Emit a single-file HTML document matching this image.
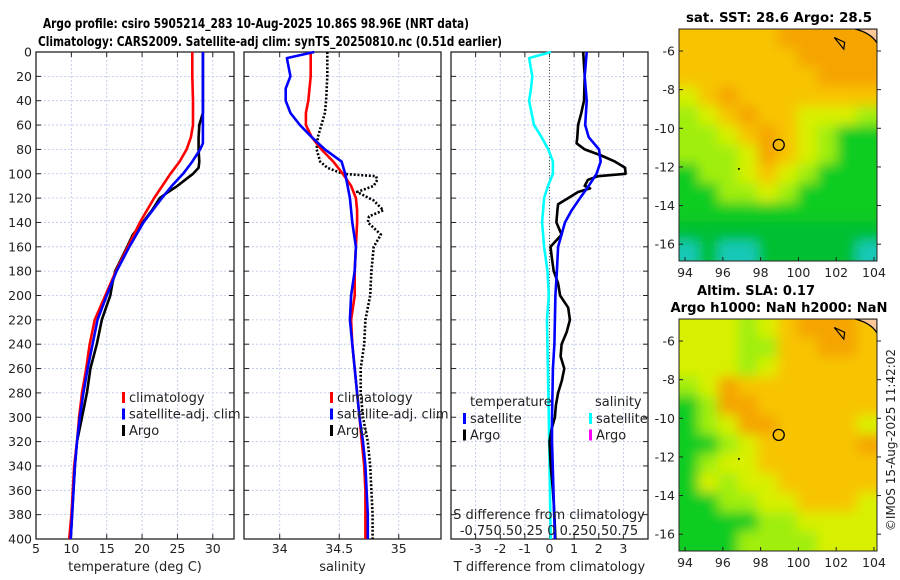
<!DOCTYPE html>
<html><head><meta charset="utf-8"><style>
body{margin:0;background:#fff;}
svg{display:block;font-family:"DejaVu Sans","Liberation Sans",sans-serif;}
</style></head><body>
<svg id="fig" width="900" height="580" viewBox="0 0 900 580" xmlns="http://www.w3.org/2000/svg">
<text x="256" y="28" font-size="13" font-weight="bold" text-anchor="middle" textLength="426" lengthAdjust="spacingAndGlyphs">Argo profile: csiro 5905214_283 10-Aug-2025 10.86S 98.96E (NRT data)</text>
<text x="270" y="46" font-size="13" font-weight="bold" text-anchor="middle" textLength="464" lengthAdjust="spacingAndGlyphs">Climatology: CARS2009. Satellite-adj clim: synTS_20250810.nc (0.51d earlier)</text>
<text x="779" y="22" font-size="13" font-weight="bold" text-anchor="middle" textLength="186" lengthAdjust="spacingAndGlyphs">sat. SST: 28.6 Argo: 28.5</text>
<text x="756" y="295" font-size="13" font-weight="bold" text-anchor="middle" textLength="118" lengthAdjust="spacingAndGlyphs">Altim. SLA: 0.17</text>
<text x="779" y="312" font-size="13" font-weight="bold" text-anchor="middle" textLength="217" lengthAdjust="spacingAndGlyphs">Argo h1000: NaN h2000: NaN</text>
<text transform="translate(895,440) rotate(-90)" font-size="12" fill="#222" text-anchor="middle">©IMOS 15-Aug-2025 11:42:02</text>
<g id="layer"></g>
</svg>
<script>
// ---------- data ----------
const depthTicks = [0,20,40,60,80,100,120,140,160,180,200,220,240,260,280,300,320,340,360,380,400];
const tempTicks = [5,10,15,20,25,30];
const salTicks = [34,34.5,35];
const salTickLabels = ["34","34.5","35"];
const diffTicks = [-3,-2,-1,0,1,2,3];

const climTDepth = [0,20,40,60,70,80,90,100,120,140,160,180,200,220,240,260,280,300,320,340,360,380,400];
const climT      = [27.1,27.1,27.2,27.2,26.9,26.3,25.3,24.0,21.7,19.7,18.0,16.3,14.8,13.3,12.6,12.1,11.5,11.1,10.8,10.4,10.2,10.0,9.7];
const satTDepth  = [0,20,40,60,75,80,90,100,110,120,140,160,180,200,220,240,260,280,300,320,340,360,380,400];
const satT       = [28.6,28.6,28.6,28.6,28.6,28.2,27.1,25.8,24.2,22.8,20.2,18.2,16.4,15.0,13.7,13.0,12.3,11.7,11.2,10.8,10.5,10.3,10.1,9.9];
const argoTDepth = [0,20,40,50,60,70,80,90,95,100,105,110,115,120,130,140,150,160,180,190,200,210,220,240,260,280,300,320,340,360,380,400];
const argoT      = [28.6,28.6,28.6,28.6,28.1,28.0,28.0,28.1,28.0,27.2,26.1,25.0,23.7,22.5,21.4,20.1,18.7,17.9,16.2,15.8,15.5,14.9,14.3,13.6,12.7,12.2,11.5,10.8,10.5,10.3,10.1,9.9];

const climSDepth = [0,20,40,50,60,70,80,90,100,110,120,130,140,160,180,200,220,240,260,280,300,320,340,360,380,400];
const climS      = [34.26,34.26,34.24,34.22,34.22,34.27,34.35,34.45,34.53,34.60,34.64,34.65,34.65,34.64,34.63,34.63,34.60,34.61,34.63,34.65,34.67,34.69,34.71,34.72,34.72,34.72];
const satSDepth  = [0,5,20,30,40,50,60,70,80,90,100,110,120,140,160,180,200,220,240,260,280,300,320,340,360,380,400];
const satS       = [34.29,34.06,34.09,34.05,34.05,34.09,34.17,34.27,34.38,34.52,34.55,34.57,34.59,34.61,34.64,34.63,34.60,34.59,34.61,34.63,34.65,34.67,34.70,34.72,34.73,34.74,34.74];
const argoSDepth = [0,20,40,50,60,70,80,90,95,100,102,105,110,115,122,130,135,140,150,160,180,200,220,240,260,280,300,320,340,360,380,400];
const argoS      = [34.40,34.40,34.39,34.38,34.35,34.32,34.31,34.34,34.40,34.53,34.81,34.82,34.79,34.65,34.79,34.87,34.75,34.74,34.85,34.79,34.77,34.76,34.72,34.71,34.68,34.68,34.70,34.74,34.76,34.77,34.78,34.78];

const dSatSDepth = [0,5,20,30,40,60,70,80,90,100,110,120,140,160,180,200,220,300,400];
const dSatS      = [0.06,-0.83,-0.7,-0.75,-0.83,-0.63,-0.32,-0.05,0.14,0.14,-0.06,-0.22,-0.3,-0.22,-0.08,-0.03,-0.1,-0.03,0.05];
const dSatTDepth = [0,20,40,60,70,80,90,100,110,120,130,140,160,180,200,220,240,260,280,300,320,400];
const dSatT      = [1.51,1.43,1.51,1.45,1.59,2.01,2.08,1.91,1.59,1.24,0.9,0.63,0.35,0.3,0.24,0.22,0.2,0.14,0.12,0.1,0.1,0.22];
const dArgoTDepth = [0,20,40,50,60,70,75,80,85,90,95,100,102,105,110,112,115,120,125,130,140,150,160,170,180,190,200,210,220,230,240,250,260,270,280,290,300,310,320,340,360,380,400];
const dArgoT      = [1.37,1.43,1.40,1.29,1.16,1.13,1.10,1.43,2.1,2.66,3.07,3.09,1.97,1.56,1.43,1.65,1.16,0.76,0.35,0.32,0.28,0.49,0.04,0.1,0.17,0.35,0.43,0.76,0.83,0.7,0.49,0.45,0.6,0.5,0.35,0.26,0.22,0.08,0.0,0.05,0.14,0.2,0.24];

const mapLonTicks = [94,96,98,100,102,104];
const mapLatTicks = [-6,-8,-10,-12,-14,-16];
const sstGrid = ["YYYYYOOOOO","YYYYYYOOOO","YYYYYYYOOO","LYOYYYYYYY","GLYOYYLLLG","GGLYOYLGgg","GGGLOYLGgg","gGGLYLGggg","ggGGLGgggg","gggggggggg","DDDDDDDDDD","CDCCDDDDDC"];
const slaGrid = ["LLLGLYOOOY","LLLGGYYOOY","LLLGLYYYYY","GLOYYYYYYY","gGOOYYYYYY","gGLOOYYYYL","ggGLYYYYYO","gGLLYYYYYY","gLGLLYYYYY","ggGGLLYYYL","ggggGGLLLL","gggGGGGLLL"];
const argoLon = 98.96, argoLat = -10.86;

// ---------- helpers ----------
const NS = "http://www.w3.org/2000/svg";
const layer = document.getElementById('layer');
function mk(tag, attrs, parent){const e=document.createElementNS(NS,tag);for(const k in attrs)e.setAttribute(k,attrs[k]);(parent||layer).appendChild(e);return e;}
function lin(d0,d1,r0,r1){return v=>r0+(v-d0)*(r1-r0)/(d1-d0);}
const yD = lin(0,400,52,539);

function panel(name,x0,x1,xs,xTicks,xLabels,xTitle,showY){
  const g=mk('g',{});
  
  
  xTicks.forEach(t=>{const x=xs(t);mk('line',{x1:x,x2:x,y1:52,y2:539,stroke:'#b8c4e8','stroke-width':0.8,'stroke-dasharray':'2,2'},g);});
  depthTicks.forEach(d=>{const y=yD(d);mk('line',{x1:x0,x2:x1,y1:y,y2:y,stroke:'#b8c4e8','stroke-width':0.8,'stroke-dasharray':'2,2'},g);
    mk('line',{x1:x0,x2:x0+5,y1:y,y2:y,stroke:'#222'},g);mk('line',{x1:x1-5,x2:x1,y1:y,y2:y,stroke:'#222'},g);
    if(showY){const t=mk('text',{x:x0-4,y:y+4.5,'font-size':12.5,'text-anchor':'end',fill:'#222'},g);t.textContent=d;
      
      }
  });
  xTicks.forEach((t,i)=>{const x=xs(t);mk('line',{x1:x,x2:x,y1:52,y2:57,stroke:'#222'},g);mk('line',{x1:x,x2:x,y1:534,y2:539,stroke:'#222'},g);
    const tx=mk('text',{x:x,y:553,'font-size':12.5,'text-anchor':'middle',fill:'#222'},g);tx.textContent=xLabels[i];
    
    });
  const tt=mk('text',{x:(x0+x1)/2,y:571,'font-size':13,'text-anchor':'middle',fill:'#222'},g);tt.textContent=xTitle;
  
  
  mk('rect',{x:x0,y:52,width:x1-x0,height:487,fill:'none',stroke:'#222','stroke-width':1.3},g);
  return g;
}
function line(g,xs,vals,depths,color,w,dash,name){
  const pts=vals.map((v,i)=>xs(v).toFixed(1)+','+yD(depths[i]).toFixed(1)).join(' ');
  const p=mk('polyline',{points:pts,fill:'none',stroke:color,'stroke-width':w,'stroke-linejoin':'round'},g);
  if(dash)p.setAttribute('stroke-dasharray',dash);
  
  
}
function legend(g,x,y,items){
  items.forEach((it,i)=>{mk('rect',{x:x,y:y+i*16.5-9,width:3,height:11,fill:it[1]},g);
    const t=mk('text',{x:x+7,y:y+i*16.5+1,'font-size':13,fill:'#222'},g);t.textContent=it[0];
    
    });
}

// ---------- panel 1: temperature ----------
const xT = lin(5,33,36,234);
const g1 = panel('temperature-panel',36,234,xT,tempTicks,tempTicks.map(String),'temperature (deg C)',true);
line(g1,xT,argoT,argoTDepth,'#000',2.6,null,'argo-temperature-line');
line(g1,xT,climT,climTDepth,'#f00',2.6,null,'climatology-temperature-line');
line(g1,xT,satT,satTDepth,'#00f',2.6,null,'satellite-temperature-line');
legend(g1,122,401,[['climatology','#f00'],['satellite-adj. clim','#00f'],['Argo','#000']]);

// ---------- panel 2: salinity ----------
const xS = lin(33.7,35.355,244,441);
const g2 = panel('salinity-panel',244,441,xS,salTicks,salTickLabels,'salinity',false);
line(g2,xS,argoS,argoSDepth,'#000',2.6,'2,1.8','argo-salinity-line');
line(g2,xS,climS,climSDepth,'#f00',2.6,null,'climatology-salinity-line');
line(g2,xS,satS,satSDepth,'#00f',2.6,null,'satellite-salinity-line');
legend(g2,330,401,[['climatology','#f00'],['satellite-adj. clim','#00f'],['Argo','#000']]);

// ---------- panel 3: differences ----------
const xDf = lin(-4,4,451,648);
const g3 = panel('difference-panel',451,648,xDf,diffTicks,diffTicks.map(String),'T difference from climatology',false);
mk('line',{x1:xDf(0),x2:xDf(0),y1:52,y2:539,stroke:'#554',"stroke-dasharray":'1,2'},g3);
line(g3,xDf,dSatS,dSatSDepth,'#0ff',2.6,null,'salinity-satellite-diff-line');
line(g3,xDf,dArgoT,dArgoTDepth,'#000',2.6,null,'argo-temperature-diff-line');
line(g3,xDf,dSatT,dSatTDepth,'#00f',2.6,null,'satellite-temperature-diff-line');
const lt=mk('text',{x:470,y:406,'font-size':13,fill:'#222'},g3);lt.textContent='temperature';


const ls=mk('text',{x:595,y:406,'font-size':13,fill:'#222'},g3);ls.textContent='salinity';


legend(g3,463,422,[['satellite','#00f'],['Argo','#000']]);
legend(g3,589,422,[['satellite','#0ff'],['Argo','#f0f']]);
const sd=mk('text',{x:549,y:519,'font-size':13,'text-anchor':'middle',fill:'#222'},g3);sd.textContent='S difference from climatology';


const sl=mk('text',{x:549,y:535,'font-size':13,'text-anchor':'middle',fill:'#222'},g3);sl.textContent='-0.750.50.25 0 0.250.50.75';



// ---------- maps ----------
const COL={O:'#f5a400',Y:'#f8c400',L:'#d8f000',G:'#a0ee10',g:'#10cc20',D:'#06c030',C:'#18c8b8'};
function drawMap(name,grid,top,bottom){
  const x0=679,x1=877;
  const xm=lin(93.68,104.16,x0,x1), ym=lin(-4.86,-16.87,top,bottom);
  const g=mk('g',{});
  
  
  const cid='clip'+name;
  const cp=mk('clipPath',{id:cid},g);mk('rect',{x:x0,y:top,width:x1-x0,height:bottom-top},cp);
  const f=mk('filter',{id:'bl'+name,filterUnits:'userSpaceOnUse',x:x0-40,y:top-40,width:x1-x0+80,height:bottom-top+80},g);mk('feGaussianBlur',{stdDeviation:6},f);
  const inner=mk('g',{'clip-path':'url(#'+cid+')'},g);
  mk('rect',{x:x0,y:top,width:x1-x0,height:bottom-top,fill:COL.Y},inner);
  const bg=mk('g',{filter:'url(#bl'+name+')'},inner);
  const nr=grid.length,nc=grid[0].length,cw=(x1-x0)/nc,ch=(bottom-top)/nr;
  grid.forEach((row,r)=>{for(let c=0;c<nc;c++){mk('rect',{x:x0+c*cw-10*(c==0)-0.5,y:top+r*ch-10*(r==0)-0.5,width:cw+1+10*(c==0||c==nc-1),height:ch+1+10*(r==0||r==nr-1),fill:COL[row[c]]},bg);}});
  mk('path',{d:`M${x1-22},${top} Q${x1-6},${top+4} ${x1},${top+14} L${x1},${top} Z`,fill:'#fcc898',stroke:'#000','stroke-width':1.3},inner);
  mk('path',{d:`M${xm(101.9)},${ym(-5.3)} L${xm(102.45)},${ym(-5.55)} L${xm(102.4)},${ym(-5.9)} Z`,fill:'none',stroke:'#000','stroke-width':1.2},inner);
  mk('circle',{cx:xm(96.85),cy:ym(-12.1),r:1,fill:'#000'},inner);
  const ac=mk('circle',{cx:xm(argoLon),cy:ym(argoLat),r:5.5,fill:'none',stroke:'#000','stroke-width':1.3},inner);
  
  
  mk('rect',{x:x0,y:top,width:x1-x0,height:bottom-top,fill:'none',stroke:'#222','stroke-width':1},g);
  mapLonTicks.forEach(t=>{const x=xm(t);mk('line',{x1:x,x2:x,y1:bottom,y2:bottom-4,stroke:'#222'},g);
    const tx=mk('text',{x:x,y:bottom+16,'font-size':12.5,'text-anchor':'middle',fill:'#222'},g);tx.textContent=t;
    
    });
  mapLatTicks.forEach(t=>{const y=ym(t);mk('line',{x1:x0,x2:x0+4,y1:y,y2:y,stroke:'#222'},g);mk('line',{x1:x1,x2:x1+4,y1:y,y2:y,stroke:'#222'},g);
    const tx=mk('text',{x:x0-4,y:y+4.5,'font-size':12.5,'text-anchor':'end',fill:'#222'},g);tx.textContent=t;
    
    });
}
drawMap('sst-map',sstGrid,29,261);
drawMap('sla-map',slaGrid,319,551);
</script>
</body></html>
